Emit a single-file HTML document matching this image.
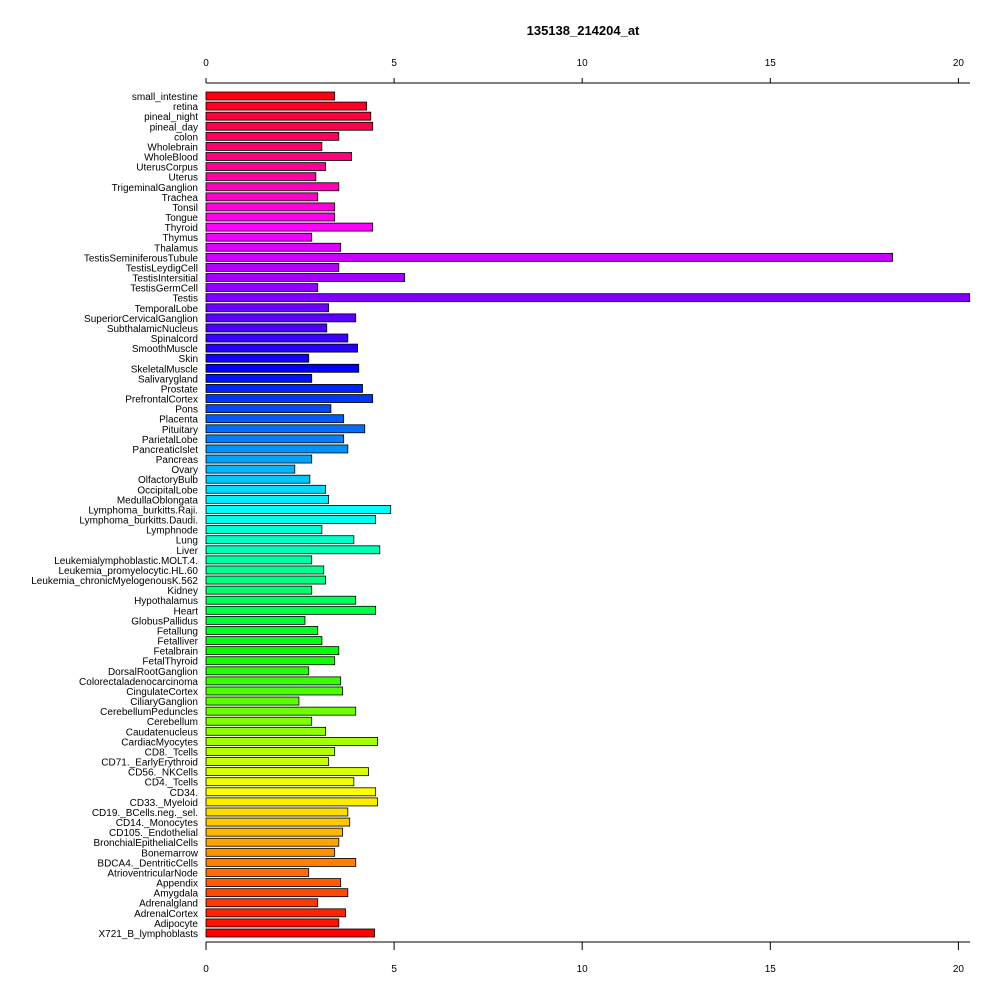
<!DOCTYPE html>
<html><head><meta charset="utf-8"><style>body{margin:0;background:#fff}svg{display:block}text{font-family:"Liberation Sans",Arial,sans-serif}</style></head>
<body>
<svg id="chart" width="1000" height="1000" xmlns="http://www.w3.org/2000/svg">
<text x="583" y="35" font-size="13" font-weight="bold" text-anchor="middle">135138_214204_at</text>
<g id="g"></g>
</svg>
<script>
const categories=["small_intestine","retina","pineal_night","pineal_day","colon","Wholebrain","WholeBlood","UterusCorpus","Uterus","TrigeminalGanglion","Trachea","Tonsil","Tongue","Thyroid","Thymus","Thalamus","TestisSeminiferousTubule","TestisLeydigCell","TestisIntersitial","TestisGermCell","Testis","TemporalLobe","SuperiorCervicalGanglion","SubthalamicNucleus","Spinalcord","SmoothMuscle","Skin","SkeletalMuscle","Salivarygland","Prostate","PrefrontalCortex","Pons","Placenta","Pituitary","ParietalLobe","PancreaticIslet","Pancreas","Ovary","OlfactoryBulb","OccipitalLobe","MedullaOblongata","Lymphoma_burkitts.Raji.","Lymphoma_burkitts.Daudi.","Lymphnode","Lung","Liver","Leukemialymphoblastic.MOLT.4.","Leukemia_promyelocytic.HL.60","Leukemia_chronicMyelogenousK.562","Kidney","Hypothalamus","Heart","GlobusPallidus","Fetallung","Fetalliver","Fetalbrain","FetalThyroid","DorsalRootGanglion","Colorectaladenocarcinoma","CingulateCortex","CiliaryGanglion","CerebellumPeduncles","Cerebellum","Caudatenucleus","CardiacMyocytes","CD8._Tcells","CD71._EarlyErythroid","CD56._NKCells","CD4._Tcells","CD34.","CD33._Myeloid","CD19._BCells.neg._sel.","CD14._Monocytes","CD105._Endothelial","BronchialEpithelialCells","Bonemarrow","BDCA4._DentriticCells","AtrioventricularNode","Appendix","Amygdala","Adrenalgland","AdrenalCortex","Adipocyte","X721_B_lymphoblasts"];
const values=[3.42,4.27,4.38,4.43,3.53,3.08,3.87,3.18,2.92,3.53,2.97,3.42,3.42,4.43,2.81,3.58,18.25,3.53,5.28,2.97,20.3,3.26,3.98,3.21,3.77,4.03,2.73,4.06,2.81,4.16,4.43,3.32,3.66,4.22,3.66,3.77,2.81,2.36,2.76,3.18,3.26,4.91,4.51,3.08,3.93,4.62,2.81,3.13,3.18,2.81,3.98,4.51,2.63,2.97,3.08,3.53,3.42,2.73,3.58,3.63,2.47,3.98,2.81,3.18,4.56,3.42,3.26,4.32,3.93,4.51,4.56,3.77,3.82,3.63,3.53,3.42,3.98,2.73,3.58,3.77,2.97,3.71,3.53,4.48];
const ticks=[0,5,10,15,20];
const NS="http://www.w3.org/2000/svg",g=document.getElementById('g');
const x=v=>206+v*37.62, n=categories.length;
const y=i=>92+i*(837/(n-1));
function mk(t,a){const e=document.createElementNS(NS,t);for(const k in a)e.setAttribute(k,a[k]);g.appendChild(e);return e;}
categories.forEach((c,i)=>{
  const hue=(n-1-i)/n*360;
  const r=mk('rect',{x:x(0),y:y(i),width:x(values[i])-x(0),height:8,fill:`hsl(${hue},100%,50%)`,stroke:'#000','stroke-width':0.8});
  
  
  const t=mk('text',{x:198,y:y(i)+8,'font-size':10,'text-anchor':'end'});t.textContent=c;
  
  
});
[[83,78,66,'top'],[942,950,972,'bottom']].forEach(([ly,ty,lb,nm])=>{
  const l=mk('line',{x1:x(0),x2:970,y1:ly,y2:ly,stroke:'#000'});
  
  
  ticks.forEach(v=>{
    mk('line',{x1:x(v),x2:x(v),y1:ly,y2:ty,stroke:'#000'});
    const t=mk('text',{x:x(v),y:lb,'font-size':10,'text-anchor':'middle'});t.textContent=v;
    
    
  });
});
</script>
</body></html>
